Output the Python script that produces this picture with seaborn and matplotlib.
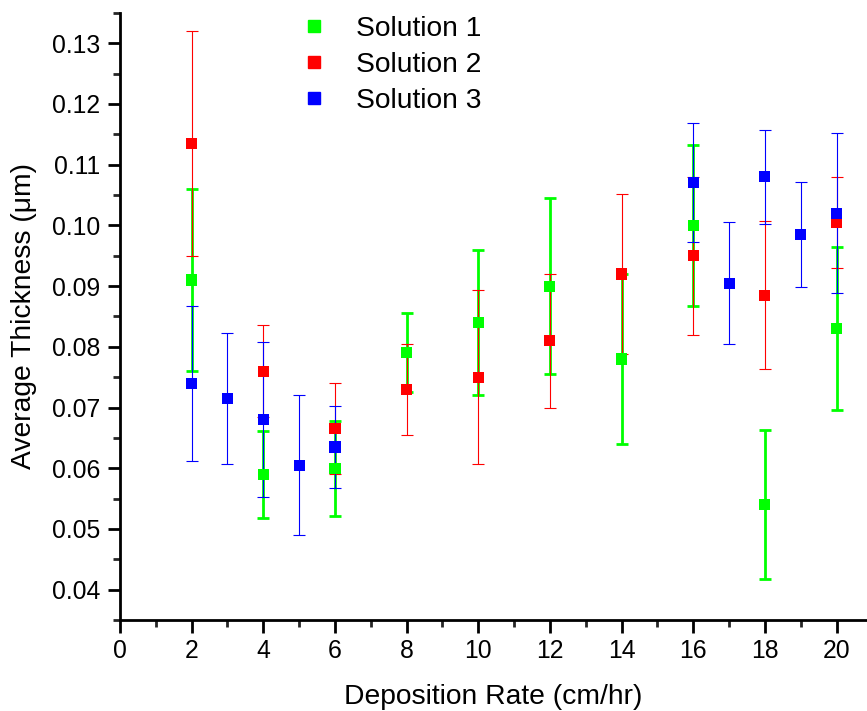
import matplotlib
matplotlib.use("Agg")
import matplotlib.pyplot as plt
import seaborn as sns
import pandas as pd
from matplotlib.ticker import MultipleLocator
from matplotlib.lines import Line2D

sns.set_theme(style="ticks")
plt.rcParams['font.family'] = ['Liberation Sans', 'DejaVu Sans']
plt.rcParams['text.color'] = 'black'
plt.rcParams['axes.labelcolor'] = 'black'

# ---- data ----
x_s1 = [2, 4, 6, 8, 10, 12, 14, 16, 18, 20]
y_s1 = [0.091, 0.059, 0.060, 0.079, 0.084, 0.090, 0.078, 0.100, 0.054, 0.083]
e_s1 = [0.015, 0.0072, 0.0078, 0.0065, 0.012, 0.0145, 0.014, 0.0133, 0.0123, 0.0134]

x_s2 = [2, 4, 6, 8, 10, 12, 14, 16, 18, 20]
y_s2 = [0.1135, 0.076, 0.0665, 0.073, 0.075, 0.081, 0.092, 0.095, 0.0885, 0.1005]
e_s2 = [0.0185, 0.0076, 0.0075, 0.0075, 0.0143, 0.011, 0.0132, 0.013, 0.0122, 0.0075]

x_s3 = [2, 3, 4, 5, 6, 16, 17, 18, 19, 20]
y_s3 = [0.074, 0.0715, 0.068, 0.0605, 0.0635, 0.107, 0.0905, 0.108, 0.0985, 0.102]
e_s3 = [0.0128, 0.0108, 0.0128, 0.0115, 0.0068, 0.0098, 0.010, 0.0077, 0.0087, 0.0132]

labels = ["Solution 1", "Solution 2", "Solution 3"]
colors = ["#00ff00", "#ff0000", "#0000ff"]
yticks = [0.04, 0.05, 0.06, 0.07, 0.08, 0.09, 0.10, 0.11, 0.12, 0.13]
yticklabels = ["0.04", "0.05", "0.06", "0.07", "0.08", "0.09", "0.10", "0.11", "0.12", "0.13"]

series = [(x_s1, y_s1, e_s1), (x_s2, y_s2, e_s2), (x_s3, y_s3, e_s3)]
frames = []
for lab, (xs, ys, es) in zip(labels, series):
    frames.append(pd.DataFrame({"rate": xs, "thick": ys, "err": es, "sol": lab}))
df = pd.concat(frames, ignore_index=True)

fig = plt.figure(figsize=(8.67, 7.11), dpi=100)
ax = fig.add_axes([0.1384, 0.128, 0.8616, 0.8538])

lws = [2.0, 0.8, 0.8]
for lab, col, lw in zip(labels, colors, lws):
    d = df[df.sol == lab]
    ax.errorbar(d.rate, d.thick, yerr=d.err, fmt='none', ecolor=col,
                elinewidth=lw, capsize=4.6, capthick=lw, zorder=2)

sns.scatterplot(data=df, x="rate", y="thick", hue="sol", hue_order=labels,
                palette=colors, marker='s', s=64, edgecolor='none',
                linewidth=0, ax=ax, zorder=3, legend=False)

# legend
handles = [Line2D([], [], marker='s', linestyle='none', color=c, markersize=8)
           for c in colors]
fig.legend(handles, labels, loc='upper left', bbox_to_anchor=(0.3327, 0.994),
           frameon=False, fontsize=20.3, handlelength=1.0, handletextpad=1.0,
           labelspacing=0.36, borderaxespad=0)

ax.set_xlim(0, 20.85)
ax.set_ylim(0.035, 0.135)
ax.xaxis.set_major_locator(MultipleLocator(2))
ax.xaxis.set_minor_locator(MultipleLocator(1))
ax.set_yticks(yticks)
ax.set_yticklabels(yticklabels)
ax.yaxis.set_minor_locator(MultipleLocator(0.005))

for s in ['top', 'right']:
    ax.spines[s].set_visible(False)
for s in ['left', 'bottom']:
    ax.spines[s].set_linewidth(2)
    ax.spines[s].set_color('black')

ax.tick_params(axis='both', which='major', length=9, width=2, direction='out',
               labelsize=17.8, colors='black', pad=5)
ax.tick_params(axis='both', which='minor', length=5, width=2, direction='out')

ax.set_xlabel("Deposition Rate (cm/hr)", fontsize=20.3, labelpad=15)
ax.set_ylabel("Average Thickness (μm)", fontsize=20.3, labelpad=11)

fig.savefig("out.png", dpi=100)
